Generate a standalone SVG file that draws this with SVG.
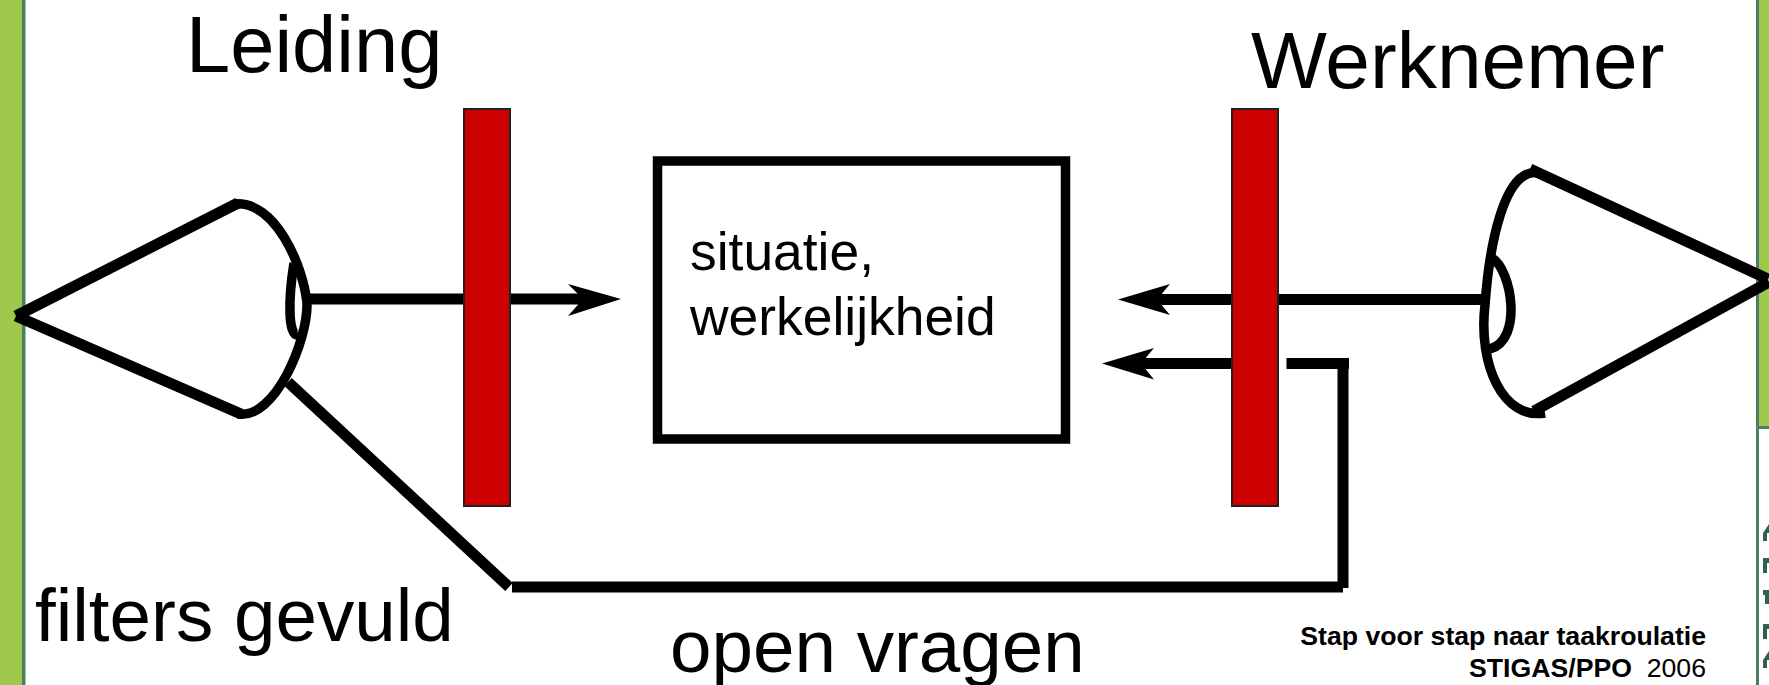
<svg xmlns="http://www.w3.org/2000/svg" width="1769" height="685" viewBox="0 0 1769 685">
<style>
text{font-family:"Liberation Sans",Arial,sans-serif;fill:#000}
.l{fill:none;stroke:#000;stroke-width:11}
.t{fill:none;stroke:#000;stroke-width:9.500}
.bar{fill:#cc0000;stroke:#222;stroke-width:2}
.h{fill:#000}
.ic{fill:#2f6350}
</style>
<rect width="1769" height="685" fill="#fff"/>
<g id="frame">
<rect x="0" y="0" width="23" height="685" fill="#9dc84b"/>
<rect x="22" y="0" width="3.500" height="685" fill="#4f7f62"/>
<rect x="1757" y="0" width="12" height="428" fill="#9dc84b"/>
<rect x="1756" y="0" width="3" height="685" fill="#4f7f62"/>
<rect x="1756" y="426" width="13" height="3" fill="#4f7f62"/>
<path class="ic" d="M1763 533l6-9v9h-2v8h-4zM1763 558h6v5h-2v10h-4zM1763 590h6v14h-4v-9h-2zM1763 624h6v5h-2v10h-4zM1763 660l6-9v9h-2v8h-4z"/>
</g>
<g id="connectors">
<path class="l" d="M308 299H464M510 299H590"/>
<path class="h" d="M621 299L568 284L583 299L568 316Z"/>
<path class="l" d="M1487 299.500H1279M1232 299.500H1150"/>
<path class="h" d="M1118 299.500L1170 284L1157 299.500L1170 315Z"/>
<path class="l" d="M1232 363.500H1135"/>
<path class="h" d="M1102 363.500L1154 348L1141 363.500L1154 379.500Z"/>
<path class="l" d="M1286.500 363.500H1349M1343 359V588M1343 587H512M509 587L288 382"/>
</g>
<g id="eye-left">
<path class="l" d="M16 316L238 203M16 316L241 414"/>
<path class="t" d="M234 204C275 200 303 265 307 303C308 340 275 420 238 414"/>
<path class="t" d="M294 263C288 300 288 336 298 335"/>
</g>
<g id="filter-left"><rect class="bar" x="464" y="109" width="46" height="397"/></g>
<g id="box"><rect x="657.500" y="161" width="408" height="278" fill="none" stroke="#000" stroke-width="9.500"/>
<text x="690" y="270" font-size="53.400">situatie,</text>
<text x="690" y="335" font-size="53.400">werkelijkheid</text></g>
<g id="filter-right"><rect class="bar" x="1232" y="109" width="46" height="397"/></g>
<g id="eye-right">
<path class="l" d="M1530 169L1768 279M1769 282L1534 411"/>
<path class="t" d="M1540 173C1503 165 1489 250 1485 305C1478 365 1503 420 1545 413"/>
<path class="t" d="M1492 258C1512 270 1523 340 1490 349"/>
</g>
<text x="186" y="72" font-size="79.500">Leiding</text>
<text x="1251" y="88" font-size="80.300">Werknemer</text>
<text x="35" y="641" font-size="74.600">filters gevuld</text>
<text x="670" y="672" font-size="74.600">open vragen</text>
<text x="1706" y="645" font-size="26.650" font-weight="bold" text-anchor="end">Stap voor stap naar taakroulatie</text>
<text x="1706" y="677" font-size="26.650" text-anchor="end"><tspan font-weight="bold">STIGAS/PPO</tspan>&#160; 2006</text>
</svg>
